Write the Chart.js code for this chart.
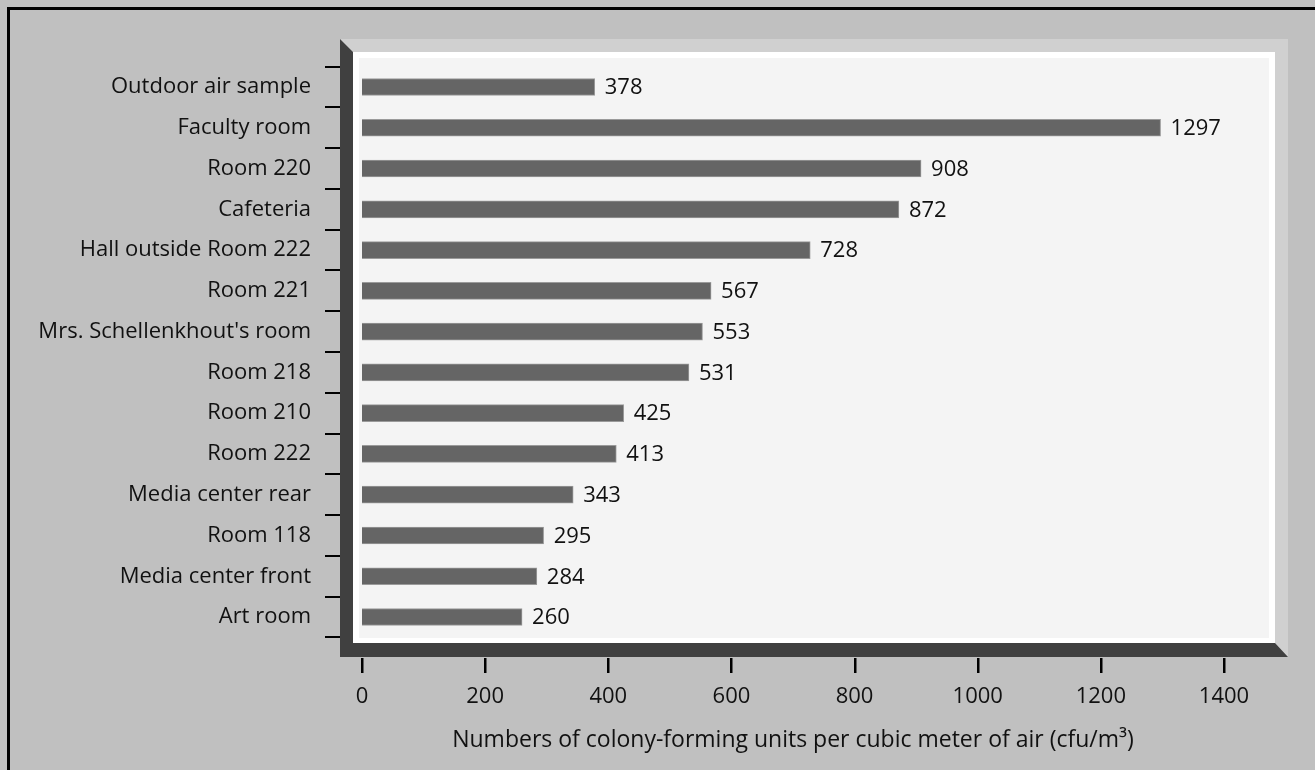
<!DOCTYPE html>
<html>
<head>
<meta charset="utf-8">
<script src="https://cdn.jsdelivr.net/npm/chart.js@4"></script>
<style>
html,body{margin:0;padding:0;background:#c0c0c0;overflow:hidden;}
canvas{display:block;}
</style>
</head>
<body>
<canvas id="c" width="1315" height="770"></canvas>
<script>
const categories = ["Outdoor air sample","Faculty room","Room 220","Cafeteria","Hall outside Room 222","Room 221","Mrs. Schellenkhout's room","Room 218","Room 210","Room 222","Media center rear","Room 118","Media center front","Art room"];
const values = [378,1297,908,872,728,567,553,531,425,413,343,295,284,260];
const xTicks = [0,200,400,600,800,1000,1200,1400];
const xTitle = "Numbers of colony-forming units per cubic meter of air (cfu/m\u00B3)";

const FONT = "'Open Sans', 'DejaVu Sans', sans-serif";

const framePlugin = {
  id: 'frame',
  beforeDraw(chart) {
    const ctx = chart.ctx, ca = chart.chartArea;
    ctx.save();
    ctx.fillStyle = '#c0c0c0';
    ctx.fillRect(0, 0, chart.width, chart.height);
    ctx.fillStyle = '#000';
    ctx.fillRect(7, 7, 3, chart.height);
    ctx.fillRect(7, 7, chart.width, 3);
    const L = ca.left - 22, T = ca.top - 27.6, R = ca.right + 64, B = ca.bottom + 19.6;
    const d = 13;
    ctx.fillStyle = '#d0d0d0';
    ctx.fillRect(L, T, R - L, B - T);
    ctx.fillStyle = '#404040';
    ctx.beginPath();
    ctx.moveTo(L, T);
    ctx.lineTo(L + d, T + d);
    ctx.lineTo(L + d, B - d - 1);
    ctx.lineTo(R - d, B - d - 1);
    ctx.lineTo(R, B);
    ctx.lineTo(L, B);
    ctx.closePath();
    ctx.fill();
    ctx.fillStyle = '#ffffff';
    ctx.fillRect(L + d, T + d, R - L - 2 * d, B - T - 2 * d - 1);
    ctx.fillStyle = '#f4f4f4';
    ctx.fillRect(L + d + 6, T + d + 6, R - L - 2 * d - 12, B - T - 2 * d - 12);
    // y tick marks at category boundaries
    const ys = chart.scales.y;
    const step = ys.getPixelForValue(1) - ys.getPixelForValue(0);
    ctx.fillStyle = '#000';
    for (let i = 0; i <= categories.length; i++) {
      const y = ys.getPixelForValue(i) - step / 2;
      ctx.fillRect(L - 15, Math.round(y) - 1, 15, 2);
    }
    // x tick marks
    const xs = chart.scales.x;
    xTicks.forEach(v => {
      const x = xs.getPixelForValue(v);
      ctx.fillRect(Math.round(x) - 1, B + 1, 2.5, 15);
    });
    ctx.restore();
  }
};

const valuePlugin = {
  id: 'vals',
  afterDatasetsDraw(chart) {
    const ctx = chart.ctx;
    const meta = chart.getDatasetMeta(0);
    ctx.save();
    ctx.font = "22px " + FONT;
    ctx.fillStyle = '#111';
    ctx.textAlign = 'left';
    ctx.textBaseline = 'middle';
    meta.data.forEach((bar, i) => {
      ctx.fillText(String(values[i]), bar.x + 10, bar.y + 1);
    });
    ctx.restore();
  }
};

new Chart(document.getElementById('c'), {
  type: 'bar',
  data: {
    labels: categories,
    datasets: [{
      data: values,
      backgroundColor: '#656565',
      borderColor: '#9a9a9a',
      borderWidth: 1,
      barThickness: 17
    }]
  },
  options: {
    indexAxis: 'y',
    responsive: false,
    animation: false,
    devicePixelRatio: 1,
    layout: { padding: { left: 0, right: 91, top: 66.6, bottom: 0 } },
    plugins: { legend: { display: false }, tooltip: { enabled: false } },
    scales: {
      x: {
        min: 0, max: 1400,
        afterBuildTicks(scale) { scale.ticks = xTicks.map(v => ({ value: v })); },
        afterFit(scale) { scale.height = 132.6; },
        grid: { display: false, drawTicks: false, tickLength: 0 },
        border: { display: false },
        ticks: { padding: 46, color: '#111', font: { family: FONT, size: 22 }, maxRotation: 0, autoSkip: false,
                  callback: (v) => String(v) },
        title: { display: true, text: xTitle, color: '#111', font: { family: FONT, size: 23 }, padding: { top: 0, bottom: 16 } }
      },
      y: {
        afterFit(scale) { scale.width = 362; },
        grid: { display: false, drawTicks: false, tickLength: 0 },
        border: { display: false },
        ticks: { padding: 51, color: '#111', font: { family: FONT, size: 22 }, autoSkip: false }
      }
    }
  },
  plugins: [framePlugin, valuePlugin]
});
</script>
</body>
</html>
